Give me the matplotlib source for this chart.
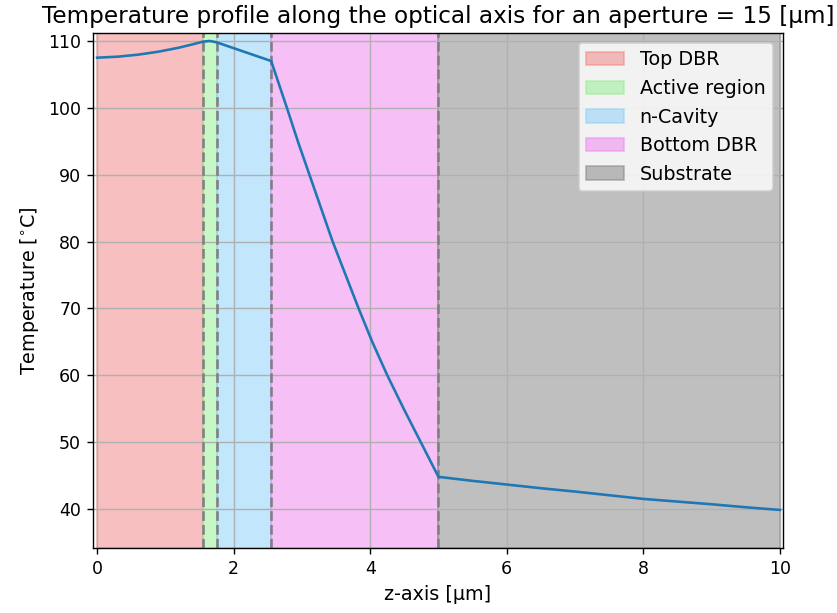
import matplotlib
matplotlib.use("Agg")
import matplotlib.pyplot as plt

# layer boundaries along z [um]
LAYER_NAMES = ["Top DBR", "Active region", "n-Cavity", "Bottom DBR", "Substrate"]
LAYER_EDGES = [0.0, 1.55, 1.75, 2.55, 5.0, 10.0]
LAYER_COLORS = ["lightcoral", "lightgreen", "lightskyblue", "violet", "gray"]

# temperature profile
z_um = [0.0, 0.3, 0.6, 0.9, 1.2, 1.4, 1.55, 1.65, 1.75, 2.15, 2.55,
        2.78, 2.94, 3.11, 3.28, 3.45, 3.64, 3.83, 4.03, 4.25, 4.49, 4.74, 5.0,
        5.5, 6.0, 6.5, 7.0, 7.5, 8.0, 8.5, 9.0, 9.5, 10.0]
temp_c = [107.5, 107.65, 107.95, 108.4, 109.0, 109.5, 109.9, 110.0, 109.8, 108.4, 107.0,
          100.0, 95.0, 90.0, 85.0, 80.0, 75.0, 70.0, 65.0, 60.0, 55.0, 50.0, 44.8,
          44.2, 43.65, 43.1, 42.6, 42.05, 41.5, 41.1, 40.7, 40.25, 39.85]

fig = plt.figure(figsize=(837 / 125, 613 / 125), dpi=125)
ax = fig.add_axes([0.1115, 0.1065, 0.8235, 0.8392])

for name, lo, hi, col in zip(LAYER_NAMES, LAYER_EDGES[:-1], LAYER_EDGES[1:], LAYER_COLORS):
    ax.axvspan(lo, hi, color=col, alpha=0.5, label=name)

for edge in LAYER_EDGES[1:-1]:
    ax.axvline(edge, color="gray", linestyle="--", linewidth=1.5)

ax.plot(z_um, temp_c, color="#1f77b4")

ax.set_xlim(-0.055, 10.04)
ax.set_ylim(34.2, 111.15)
ax.set_xlabel("z-axis [μm]", fontsize=11)
ax.set_ylabel("Temperature [$^{\\circ}$C]", fontsize=11)
ax.set_title("Temperature profile along the optical axis for an aperture = 15 [μm]",
             fontsize=13.3)
ax.grid(True)
ax.legend(loc="upper right", fontsize=11)

fig.savefig("out.png", dpi=125)
